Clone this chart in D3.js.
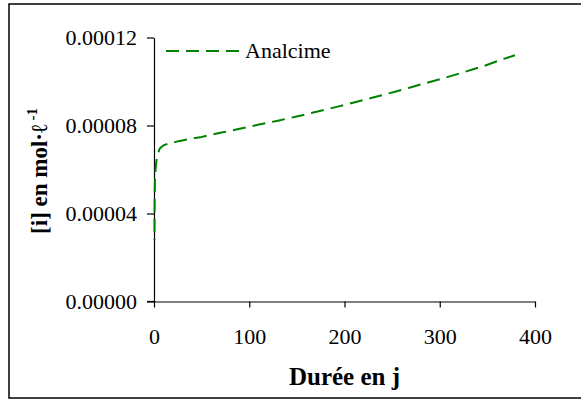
<!DOCTYPE html>
<html><head><meta charset="utf-8">
<script src="https://cdn.jsdelivr.net/npm/d3@7"></script>
<style>body{margin:0;background:#fff}svg{display:block}text{font-family:"Liberation Serif","DejaVu Serif",serif}</style>
</head><body>
<script>
const seriesName = "Analcime";
const days   = [0.5, 0.6, 0.8, 1, 1.5, 2, 3, 4, 6, 10, 15, 27, 50, 71, 90, 108, 130, 152, 174, 195, 216, 236, 256, 270, 283, 304, 325, 346, 368, 379];
const values = [2.8e-5, 4.0e-5, 5.0e-5, 5.5e-5, 5.9e-5, 6.2e-5, 6.5e-5, 6.7e-5, 6.95e-5, 7.1e-5, 7.18e-5, 7.30e-5, 7.48e-5, 7.68e-5, 7.85e-5, 8.02e-5, 8.22e-5, 8.43e-5, 8.66e-5, 8.88e-5, 9.11e-5, 9.34e-5, 9.57e-5, 9.74e-5, 9.90e-5, 1.015e-4, 1.042e-4, 1.070e-4, 1.104e-4, 1.119e-4];
const xTicks = [0, 100, 200, 300, 400];
const yTicks = [0, 0.00004, 0.00008, 0.00012];
const xTitle = "Durée en j";

const W = 581, H = 401;
const svg = d3.select("body").append("svg").attr("width", W).attr("height", H);
svg.append("rect").attr("x", 9).attr("y", 4).attr("width", 580).attr("height", 394)
  .attr("fill", "none").attr("stroke", "#000").attr("stroke-width", 1.5);

const x = d3.scaleLinear().domain([0, 400]).range([154, 535]);
const y = d3.scaleLinear().domain([0, 0.00012]).range([301.5, 37.5]);

const gx = svg.append("g").attr("transform", "translate(0,301.5)")
  .call(d3.axisBottom(x).tickValues(xTicks).tickFormat(d3.format("d")).tickSize(6).tickPadding(21).tickSizeOuter(0));
const gy = svg.append("g").attr("transform", "translate(154,0)")
  .call(d3.axisLeft(y).tickValues(yTicks).tickFormat(d3.format(".5f")).tickSize(7).tickPadding(10).tickSizeOuter(0));
[gx, gy].forEach(g => {
  g.attr("font-family", null);
  g.select(".domain").attr("stroke", "#000").attr("stroke-width", 1.2);
  g.selectAll(".tick line").attr("stroke", "#000").attr("stroke-width", 1.2);
  g.selectAll(".tick text").attr("font-size", 22).attr("fill", "#000");
});
svg.append("line").attr("x1", 147).attr("x2", 154).attr("y1", 301.5).attr("y2", 301.5).attr("stroke", "#000").attr("stroke-width", 1.2);

const line = d3.line().x((d, i) => x(days[i])).y(d => y(d));
const path = svg.append("path").datum(values).attr("d", line).attr("fill", "none")
  .attr("stroke", "#008000").attr("stroke-width", 2).attr("stroke-dasharray", "13,7");
const L = path.node().getTotalLength();
path.attr("stroke-dashoffset", ((12 - (L % 20)) + 20) % 20);

// legend
svg.append("line").attr("x1", 166).attr("x2", 239).attr("y1", 51).attr("y2", 51)
  .attr("stroke", "#008000").attr("stroke-width", 2).attr("stroke-dasharray", "13,7");
svg.append("text").attr("x", 245).attr("y", 58).attr("font-size", 22).text(seriesName);

svg.append("text").attr("x", 344.5).attr("y", 385).attr("text-anchor", "middle")
  .attr("font-size", 25).attr("font-weight", "bold").text(xTitle);

const yt = svg.append("text").attr("transform", "translate(47,171) rotate(-90)").attr("text-anchor", "middle")
  .attr("font-size", 23).attr("font-weight", "bold");
yt.append("tspan").text("[i] en mol·ℓ");
yt.append("tspan").attr("dy", -10).attr("font-size", 15).text(" -1");
</script>
</body></html>
